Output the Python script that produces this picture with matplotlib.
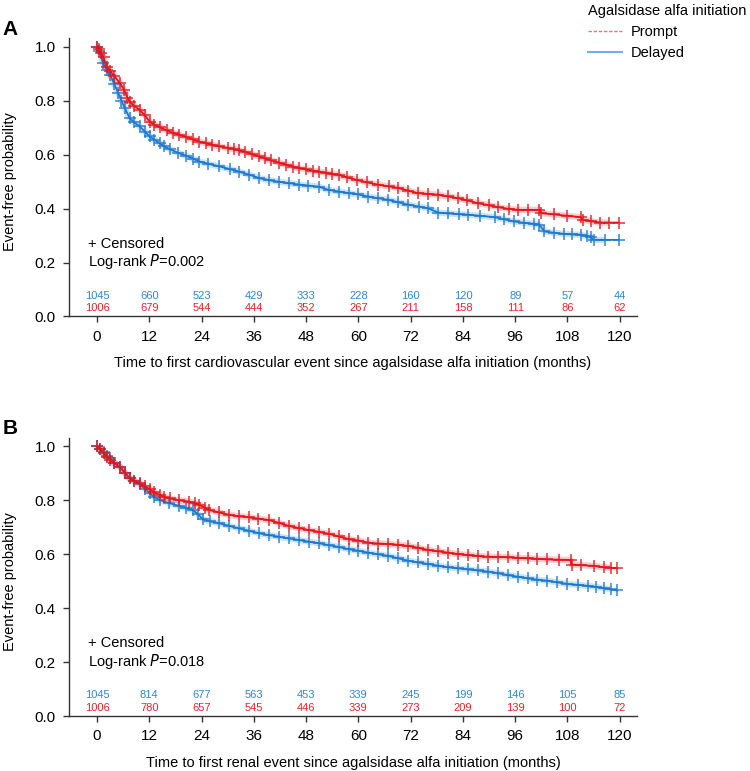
import matplotlib
matplotlib.use("Agg")
import matplotlib.pyplot as plt
from matplotlib.lines import Line2D

plt.rcParams["font.family"] = ["Liberation Sans", "DejaVu Sans"]

# -----------------------------
# Data
# -----------------------------
# Panel A: time to first cardiovascular event
a_prompt_t = [0, 0.5, 1, 1.5, 2.2, 3, 4, 5.3, 6.2, 7, 7.5, 8.5, 9.8, 11, 12.1, 13.2, 14.4, 16, 17.5,
              18.9, 20.5, 22, 23.5, 25, 26.5, 28.1, 30, 31.5, 32.6, 34, 35.5, 37.2, 38.5, 40, 41.8,
              43.5, 45, 46.3, 48, 49.5, 50.9, 52.5, 54, 55.5, 57.5, 59.6, 62, 64.6, 67, 69.2, 71.5,
              73.7, 76, 78.3, 80.5, 82.9, 85, 87.4, 90, 92, 94.5, 96.6, 99, 101.5, 102, 105, 108,
              111, 111.5, 113.5, 115.5, 117.5, 119.8]
a_prompt_s = [1.0, 0.99, 0.975, 0.96, 0.926, 0.91, 0.89, 0.864, 0.84, 0.81, 0.796, 0.78, 0.766, 0.745,
              0.722, 0.71, 0.701, 0.69, 0.68, 0.673, 0.665, 0.656, 0.648, 0.642, 0.636, 0.63, 0.625,
              0.62, 0.615, 0.61, 0.602, 0.593, 0.586, 0.578, 0.570, 0.562, 0.555, 0.55, 0.545, 0.54,
              0.537, 0.532, 0.528, 0.525, 0.515, 0.506, 0.497, 0.488, 0.482, 0.476, 0.466, 0.457,
              0.454, 0.451, 0.445, 0.438, 0.43, 0.42, 0.412, 0.405, 0.399, 0.395, 0.395, 0.395,
              0.383, 0.378, 0.373, 0.368, 0.358, 0.353, 0.348, 0.348, 0.348]

a_delayed_t = [0, 0.5, 1.4, 2.2, 3, 4, 4.9, 5.6, 6.4, 7.5, 8.5, 9.8, 11, 12.1, 13.2, 14.4, 15.5, 16.7,
               18.5, 20.5, 22, 23.5, 25.5, 28.1, 30.5, 32.6, 35, 37.2, 39.5, 41.8, 44, 46.3, 48.5,
               50.9, 53.2, 55.5, 57.8, 60, 62.3, 64.6, 66.9, 69.2, 71.5, 74, 76, 78.3, 80.5, 83,
               85.2, 88, 91.3, 93.5, 95.8, 98, 100.4, 101.5, 102.7, 105, 107.2, 109, 111, 112.5,
               113.3, 114, 116.5, 119.8]
a_delayed_s = [1.0, 0.985, 0.938, 0.915, 0.895, 0.86, 0.827, 0.80, 0.772, 0.735, 0.72, 0.704, 0.685,
               0.667, 0.655, 0.642, 0.63, 0.62, 0.607, 0.595, 0.585, 0.574, 0.566, 0.556, 0.546,
               0.537, 0.525, 0.513, 0.505, 0.499, 0.494, 0.489, 0.485, 0.481, 0.469, 0.463, 0.457,
               0.452, 0.444, 0.438, 0.432, 0.423, 0.414, 0.407, 0.401, 0.385, 0.382, 0.379, 0.377,
               0.373, 0.368, 0.36, 0.352, 0.347, 0.343, 0.34, 0.315, 0.31, 0.306, 0.304, 0.303,
               0.298, 0.294, 0.284, 0.284, 0.284]

# Panel B: time to first renal event
b_prompt_t = [0, 0.7, 1.5, 2.2, 3, 4, 5.3, 6.5, 7.5, 8.5, 9.8, 11, 12.1, 13.2, 14.4, 15.5, 16.7, 18.9,
              21.2, 22.5, 23.5, 24.8, 25.8, 28, 30.4, 32.5, 34.9, 37, 39.5, 41.8, 44.1, 46.3, 48.6,
              50.9, 53.2, 55.5, 57.8, 60, 62.3, 64.6, 66.9, 69.2, 71.5, 73.7, 76, 78.3, 80.6, 82.9,
              85.2, 87.4, 89.7, 92, 94.3, 96.6, 98.9, 101, 103.4, 106, 108.7, 109, 111, 114, 116.3,
              118, 119.4]
b_prompt_s = [1.0, 0.99, 0.975, 0.96, 0.949, 0.937, 0.924, 0.90, 0.881, 0.872, 0.863, 0.852, 0.841,
              0.83, 0.82, 0.812, 0.807, 0.80, 0.795, 0.789, 0.783, 0.772, 0.764, 0.755, 0.746,
              0.741, 0.737, 0.732, 0.727, 0.716, 0.705, 0.697, 0.69, 0.683, 0.676, 0.666, 0.656,
              0.651, 0.643, 0.64, 0.638, 0.635, 0.631, 0.624, 0.616, 0.611, 0.606, 0.601, 0.597,
              0.594, 0.591, 0.59, 0.589, 0.587, 0.585, 0.583, 0.581, 0.58, 0.579, 0.562, 0.56,
              0.557, 0.552, 0.55, 0.548]

b_delayed_t = [0, 0.7, 1.5, 2.2, 3, 4, 5.3, 6.5, 7.5, 8.5, 9.8, 11, 12.1, 13.2, 14.4, 16.5, 18.9,
               20.5, 22, 23.2, 24.3, 26, 28.1, 30.4, 32.6, 34.9, 37.2, 39.5, 41.8, 44, 46.3, 48.6,
               50.9, 53.2, 55.5, 57.8, 60, 62.3, 64.6, 66.9, 69.2, 71.5, 73.7, 76, 78.3, 80.6, 82.9,
               85.2, 87.4, 89.7, 92, 94.3, 96.6, 98.9, 101, 103.4, 105.7, 108, 110.3, 112.6, 114.5,
               116.3, 118, 119.4]
b_delayed_s = [1.0, 0.99, 0.978, 0.965, 0.956, 0.94, 0.924, 0.90, 0.881, 0.872, 0.86, 0.843, 0.826,
               0.812, 0.801, 0.79, 0.779, 0.771, 0.764, 0.748, 0.73, 0.722, 0.715, 0.705, 0.696,
               0.687, 0.678, 0.671, 0.665, 0.659, 0.653, 0.647, 0.641, 0.634, 0.627, 0.619, 0.613,
               0.606, 0.6, 0.594, 0.585, 0.576, 0.57, 0.564, 0.558, 0.552, 0.548, 0.544, 0.54,
               0.536, 0.53, 0.523, 0.517, 0.511, 0.506, 0.502, 0.496, 0.49, 0.487, 0.483, 0.479,
               0.475, 0.47, 0.466]

# Numbers at risk
risk_times = [0, 12, 24, 36, 48, 60, 72, 84, 96, 108, 120]
a_risk_delayed = [1045, 660, 523, 429, 333, 228, 160, 120, 89, 57, 44]
a_risk_prompt = [1006, 679, 544, 444, 352, 267, 211, 158, 111, 86, 62]
b_risk_delayed = [1045, 814, 677, 563, 453, 339, 245, 199, 146, 105, 85]
b_risk_prompt = [1006, 780, 657, 545, 446, 339, 273, 209, 139, 100, 72]

panels = [
    ("A", a_prompt_t, a_prompt_s, a_delayed_t, a_delayed_s, a_risk_delayed, a_risk_prompt,
     "0.002", "Time to first cardiovascular event since agalsidase alfa initiation (months)"),
    ("B", b_prompt_t, b_prompt_s, b_delayed_t, b_delayed_s, b_risk_delayed, b_risk_prompt,
     "0.018", "Time to first renal event since agalsidase alfa initiation (months)"),
]

RED = "#e3151c"
BLUE = "#1a78cf"
RED_TXT = "#e8232b"
BLUE_TXT = "#2d86d8"
AXC = "#333333"

fig = plt.figure(figsize=(7.5, 7.71), dpi=100)
bottoms = [0.5895, 0.0710]

for (letter, pt, ps, dt, ds, r_del, r_pro, pval, xlabel), bottom in zip(panels, bottoms):
    ax = fig.add_axes([0.092, bottom, 0.757, 0.3606])

    # curves: soft band under the line stands in for the dense censor crosses
    for t, s, c, z in [(dt, ds, BLUE, 2), (pt, ps, RED, 5)]:
        ax.plot(t[:-1], s[:-1], color=c, lw=4.5, alpha=0.22, solid_capstyle="butt", zorder=z)
        ax.plot(t, s, color=c, lw=1.3, zorder=z + 1)
        ax.plot(t, s, ls="none", marker="+", ms=8, mew=1.4, color=c, alpha=0.7, zorder=z + 2)

    ax.set_xlim(-6.42, 123.9)
    ax.set_ylim(0, 1.03)
    ax.set_xticks(risk_times)
    ax.set_yticks([0, 0.2, 0.4, 0.6, 0.8, 1.0])
    ax.set_yticklabels(["0.0", "0.2", "0.4", "0.6", "0.8", "1.0"])
    for s in ["top", "right"]:
        ax.spines[s].set_visible(False)
    for s in ["left", "bottom"]:
        ax.spines[s].set_color(AXC)
        ax.spines[s].set_linewidth(1.0)
    ax.tick_params(axis="both", labelsize=11, length=4.5, width=1.0, color=AXC, pad=5)
    ax.set_xlabel(xlabel, fontsize=10.5, labelpad=9)

    # numbers at risk
    for t, nd, npr in zip(risk_times, r_del, r_pro):
        ax.text(t, 0.077, str(nd), color=BLUE_TXT, fontsize=8, ha="center", va="center")
        ax.text(t, 0.030, str(npr), color=RED_TXT, fontsize=8, ha="center", va="center")

    ax.text(-2.0, 0.270, "+ Censored", fontsize=10.5, ha="left", va="center")
    ax.text(-2.0, 0.202, "Log-rank $\\it{P}$=" + pval, fontsize=10.5, ha="left", va="center")

    # panel letter and y label
    fig.text(10 / 750, bottom + 0.3606 + 0.012, letter, fontsize=15, fontweight="bold",
             ha="center", va="center")
    fig.text(10 / 750, bottom + 0.3606 / 2 - 0.005, "Event-free probability", fontsize=10.5,
             rotation=90, ha="center", va="center")

# legend
handles = [
    Line2D([], [], color=RED, lw=1.0, ls=(0, (2.5, 1.2)), alpha=0.6),
    Line2D([], [], color=BLUE, lw=1.5, alpha=0.6),
]
leg = fig.legend(handles, ["Prompt", "Delayed"], title="Agalsidase alfa initiation",
                 loc="upper left", bbox_to_anchor=(587 / 750, 0.997), frameon=False,
                 fontsize=10.5, title_fontsize=10.5, borderpad=0.1, borderaxespad=0,
                 handlelength=2.3, handletextpad=0.6, labelspacing=0.5,
                 alignment="left")

fig.savefig("out.png", dpi=100)
